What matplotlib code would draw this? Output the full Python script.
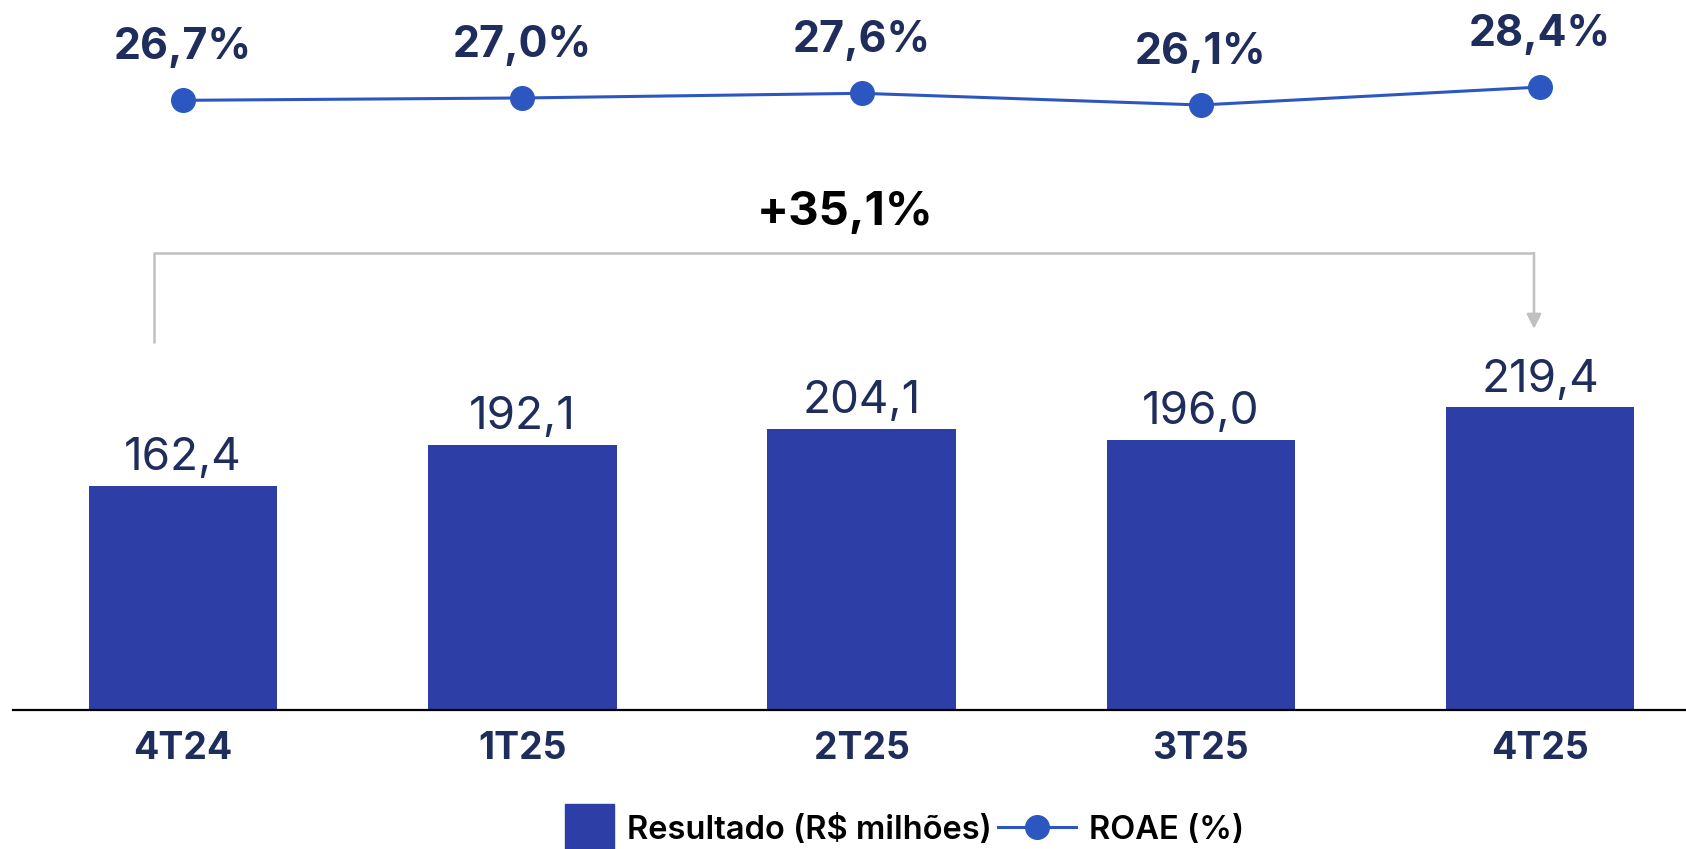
import matplotlib
matplotlib.use("Agg")
import matplotlib.pyplot as plt
from matplotlib.patches import Patch, Rectangle
from matplotlib.lines import Line2D
from matplotlib.legend_handler import HandlerPatch

# dados
trimestres = ["4T24", "1T25", "2T25", "3T25", "4T25"]
resultado = [162.4, 192.1, 204.1, 196.0, 219.4]
roae = [26.7, 27.0, 27.6, 26.1, 28.4]

COR_BARRA = "#2D3EA6"
COR_LINHA = "#2C57C1"
COR_TEXTO = "#1F2D5C"
COR_SETA = "#C0C0C0"

plt.rcParams["font.family"] = ["Inter", "DejaVu Sans"]


def br(v, suf=""):
    return f"{v:.1f}".replace(".", ",") + suf


def quadrado(legend, orig_handle, xdescent, ydescent, width, height, fontsize):
    lado = 1.5 * fontsize
    return Rectangle((-xdescent + width - lado, -ydescent + (height - lado) / 2),
                     lado, lado)


W, H = 1686, 849
fig = plt.figure(figsize=(W / 100, H / 100), dpi=100)
ax = fig.add_axes([13 / W, (H - 710) / H, (W - 13) / W, 710 / H])

x = list(range(len(trimestres)))
ax.bar(x, resultado, width=0.555, color=COR_BARRA, zorder=2)
for xi, v in zip(x, resultado):
    ax.annotate(br(v), (xi, v), xytext=(0, 20), textcoords="offset points",
                ha="center", va="center", fontsize=33, color=COR_TEXTO)

ax.set_xlim(-0.5015, 4.43)
ax.set_ylim(0, 514.9)
ax.set_xticks(x)
ax.set_xticklabels(trimestres, fontsize=27, fontweight="bold", color=COR_TEXTO)
ax.tick_params(axis="x", length=0, pad=15)
ax.set_yticks([])
for s in ["top", "right", "left"]:
    ax.spines[s].set_visible(False)
ax.spines["bottom"].set_linewidth(1.6)
ax.spines["bottom"].set_color("black")

# chave de crescimento
y_top = max(resultado) + 112
ax.plot([x[0] - 0.086, x[0] - 0.086, x[-1] - 0.018],
        [resultado[0] + 104, y_top, y_top], color=COR_SETA, lw=1.8,
        solid_capstyle="butt", zorder=1)
ax.annotate("", xy=(x[-1] - 0.018, max(resultado) + 57),
            xytext=(x[-1] - 0.018, y_top),
            arrowprops=dict(arrowstyle="-|>", color=COR_SETA, lw=1.8,
                            mutation_scale=22, shrinkA=0, shrinkB=0))
cresc = (resultado[-1] / resultado[0] - 1) * 100
ax.text(1.95, y_top + 29, "+" + br(cresc, "%"), ha="center", va="center",
        fontsize=34, fontweight="bold", color="black")

# ROAE
ax2 = ax.twinx()
ax2.set_ylim(-51.46, 39.56)
ax2.axis("off")
ax2.plot(x, roae, color=COR_LINHA, lw=2.2, marker="o", markersize=17, zorder=3)
for xi, v in zip(x, roae):
    ax2.annotate(br(v, "%"), (xi, v), xytext=(0, 38), textcoords="offset points",
                 ha="center", va="center", fontsize=31, fontweight="bold",
                 color=COR_TEXTO)

handles = [Patch(color=COR_BARRA, label="Resultado (R$ milhões)"),
           Line2D([], [], color=COR_LINHA, lw=2.2, marker="o", markersize=17,
                  label="ROAE (%)")]
fig.legend(handles=handles, loc="center", bbox_to_anchor=(890 / W, 1 - 830 / H),
           ncol=2, frameon=False, prop={"size": 23.5, "weight": "semibold"},
           handlelength=2.4, handleheight=1.0, handletextpad=0.4, columnspacing=0.2,
           handler_map={Patch: HandlerPatch(patch_func=quadrado)})

fig.savefig("out.png", dpi=100)
